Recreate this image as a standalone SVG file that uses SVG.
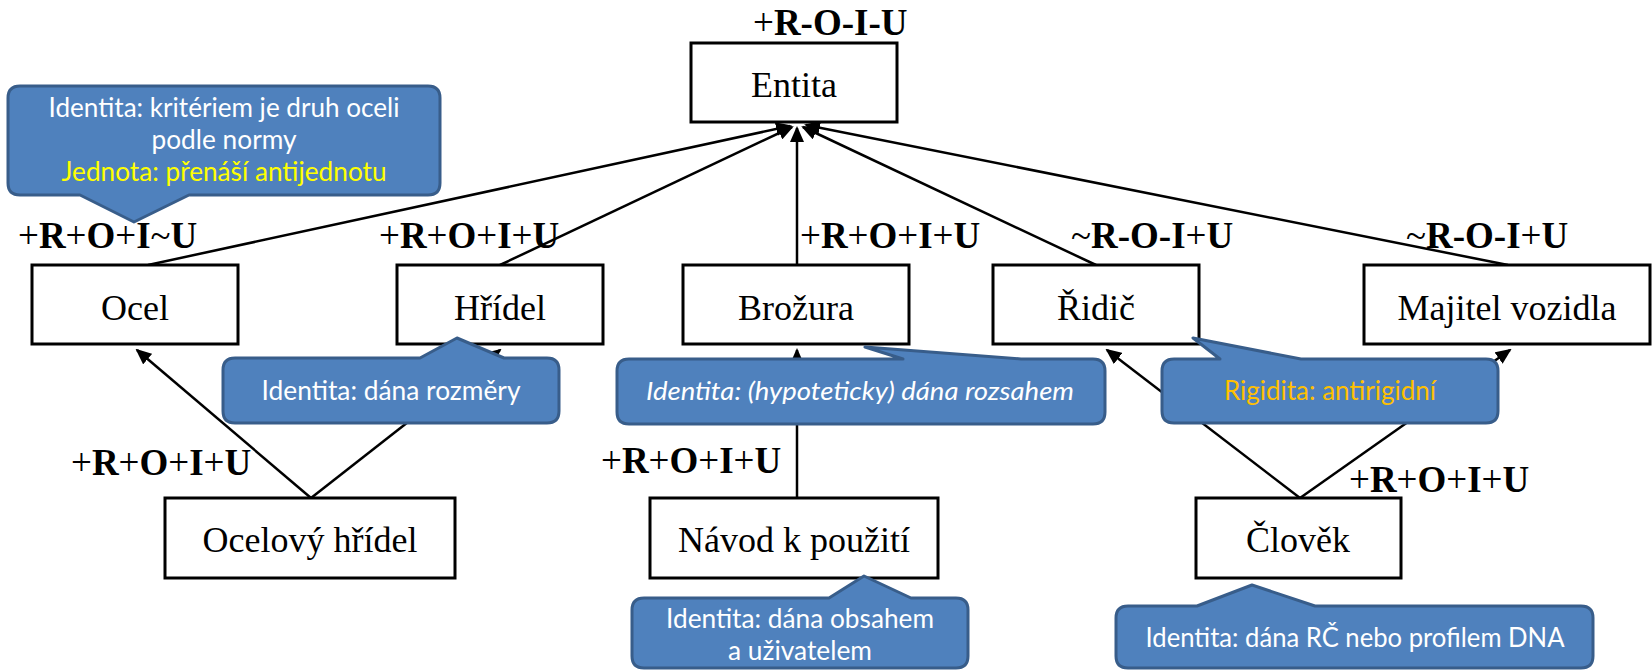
<svg xmlns="http://www.w3.org/2000/svg" width="1652" height="670" viewBox="0 0 1652 670">
  <defs>
    <marker id="arrow" markerUnits="userSpaceOnUse" markerWidth="16" markerHeight="14" viewBox="0 0 16 14" refX="14" refY="7" orient="auto">
      <path d="M0,0 L16,7 L0,14 Z" fill="#000"/>
    </marker>
    <style>
      .box { fill: #fff; stroke: #000; stroke-width: 3; }
      .name { font-family: "Liberation Serif", "Times New Roman", serif; font-size: 36px; fill: #000; text-anchor: middle; }
      .tag { font-family: "Liberation Serif", "Times New Roman", serif; font-size: 37px; font-weight: bold; fill: #000; }
      .op { font-weight: normal; }
      .edge { fill: none; stroke: #000; stroke-width: 2.5; marker-end: url(#arrow); }
      .bubble { fill: #4F81BD; stroke: #385D8A; stroke-width: 3; stroke-linejoin: round; }
      .note { font-family: Lato, "Open Sans", sans-serif; font-size: 26px; fill: #fff; text-anchor: middle; }
      .yellow { fill: #FFFF00; }
      .gold { fill: #FFC000; }
      .italic { font-style: italic; }
    </style>
  </defs>

  <!-- generalisation links -->
  <g id="connectors">
    <path class="edge" d="M148,265 L790,126"/>
    <path class="edge" d="M500,265 L792,127"/>
    <path class="edge" d="M797,265 L797,128"/>
    <path class="edge" d="M1096,265 L803,127"/>
    <path class="edge" d="M1508,265 L806,125"/>
    <path class="edge" d="M311,498 L137,350"/>
    <path class="edge" d="M311,498 L500,350"/>
    <path class="edge" d="M797,498 L797,350"/>
    <path class="edge" d="M1300,498 L1107,350"/>
    <path class="edge" d="M1300,498 L1510,350"/>
  </g>

  <g id="entita">
    <rect class="box" x="691" y="43" width="206" height="79"/>
    <text class="name" x="794" y="97">Entita</text>
    <text class="tag" x="753" y="35"><tspan class="op">+</tspan>R-O-I-U</text>
  </g>

  <g id="ocel">
    <rect class="box" x="32" y="265" width="206" height="79"/>
    <text class="name" x="135" y="320">Ocel</text>
    <text class="tag" x="18" y="248"><tspan class="op">+</tspan>R<tspan class="op">+</tspan>O<tspan class="op">+</tspan>I<tspan class="op">~</tspan>U</text>
  </g>

  <g id="hridel">
    <rect class="box" x="397" y="265" width="206" height="79"/>
    <text class="name" x="500" y="320">Hřídel</text>
    <text class="tag" x="379" y="248"><tspan class="op">+</tspan>R<tspan class="op">+</tspan>O<tspan class="op">+</tspan>I<tspan class="op">+</tspan>U</text>
  </g>

  <g id="brozura">
    <rect class="box" x="683" y="265" width="226" height="79"/>
    <text class="name" x="796" y="320">Brožura</text>
    <text class="tag" x="800" y="248"><tspan class="op">+</tspan>R<tspan class="op">+</tspan>O<tspan class="op">+</tspan>I<tspan class="op">+</tspan>U</text>
  </g>

  <g id="ridic">
    <rect class="box" x="993" y="265" width="206" height="79"/>
    <text class="name" x="1096" y="320">Řidič</text>
    <text class="tag" x="1071" y="248"><tspan class="op">~</tspan>R-O-I<tspan class="op">+</tspan>U</text>
  </g>

  <g id="majitel-vozidla">
    <rect class="box" x="1364" y="265" width="286" height="79"/>
    <text class="name" x="1507" y="320">Majitel vozidla</text>
    <text class="tag" x="1406" y="248"><tspan class="op">~</tspan>R-O-I<tspan class="op">+</tspan>U</text>
  </g>

  <g id="ocelovy-hridel">
    <rect class="box" x="165" y="498" width="290" height="80"/>
    <text class="name" x="310" y="552">Ocelový hřídel</text>
    <text class="tag" x="71" y="475"><tspan class="op">+</tspan>R<tspan class="op">+</tspan>O<tspan class="op">+</tspan>I<tspan class="op">+</tspan>U</text>
  </g>

  <g id="navod">
    <rect class="box" x="650" y="498" width="288" height="80"/>
    <text class="name" x="794" y="552">Návod k použití</text>
    <text class="tag" x="601" y="473"><tspan class="op">+</tspan>R<tspan class="op">+</tspan>O<tspan class="op">+</tspan>I<tspan class="op">+</tspan>U</text>
  </g>

  <g id="clovek">
    <rect class="box" x="1196" y="498" width="205" height="80"/>
    <text class="name" x="1298" y="552">Člověk</text>
    <text class="tag" x="1349" y="492"><tspan class="op">+</tspan>R<tspan class="op">+</tspan>O<tspan class="op">+</tspan>I<tspan class="op">+</tspan>U</text>
  </g>

  <!-- annotation callouts -->
  <g id="note-ocel">
    <path class="bubble" d="M20,86 H428 Q440,86 440,98 V183 Q440,195 428,195 H189 L134,222 L80,195 H20 Q8,195 8,183 V98 Q8,86 20,86 Z"/>
    <text class="note" x="224" y="117" textLength="351" lengthAdjust="spacingAndGlyphs">Identita: kritériem je druh oceli</text>
    <text class="note" x="224" y="149" textLength="145" lengthAdjust="spacingAndGlyphs">podle normy</text>
    <text class="note yellow" x="224" y="181" textLength="325" lengthAdjust="spacingAndGlyphs">Jednota: přenáší antijednotu</text>
  </g>

  <g id="note-hridel">
    <path class="bubble" d="M235,358 H420 L457,338 L504,358 H547 Q559,358 559,370 V411 Q559,423 547,423 H235 Q223,423 223,411 V370 Q223,358 235,358 Z"/>
    <text class="note" x="391" y="400" textLength="259" lengthAdjust="spacingAndGlyphs">Identita: dána rozměry</text>
  </g>

  <g id="note-brozura">
    <path class="bubble" d="M629,359 H903 L865,347 L1021,359 H1093 Q1105,359 1105,371 V412 Q1105,424 1093,424 H629 Q617,424 617,412 V371 Q617,359 629,359 Z"/>
    <text class="note italic" x="860" y="400" textLength="428" lengthAdjust="spacingAndGlyphs">Identita: (hypoteticky) dána rozsahem</text>
  </g>

  <g id="note-ridic">
    <path class="bubble" d="M1174,359 H1220 L1193,338 L1301,359 H1486 Q1498,359 1498,371 V411 Q1498,423 1486,423 H1174 Q1162,423 1162,411 V371 Q1162,359 1174,359 Z"/>
    <text class="note gold" x="1330" y="400" textLength="212" lengthAdjust="spacingAndGlyphs">Rigidita: antirigidní</text>
  </g>

  <g id="note-navod">
    <path class="bubble" d="M644,598 H829 L864,576 L911,598 H956 Q968,598 968,610 V656 Q968,668 956,668 H644 Q632,668 632,656 V610 Q632,598 644,598 Z"/>
    <text class="note" x="800" y="628" textLength="268" lengthAdjust="spacingAndGlyphs">Identita: dána obsahem</text>
    <text class="note" x="800" y="660" textLength="144" lengthAdjust="spacingAndGlyphs">a uživatelem</text>
  </g>

  <g id="note-clovek">
    <path class="bubble" d="M1128,606 H1197 L1252,585 L1315,606 H1581 Q1593,606 1593,618 V656 Q1593,668 1581,668 H1128 Q1116,668 1116,656 V618 Q1116,606 1128,606 Z"/>
    <text class="note" x="1355" y="647" textLength="419" lengthAdjust="spacingAndGlyphs">Identita: dána RČ nebo profilem DNA</text>
  </g>
</svg>
